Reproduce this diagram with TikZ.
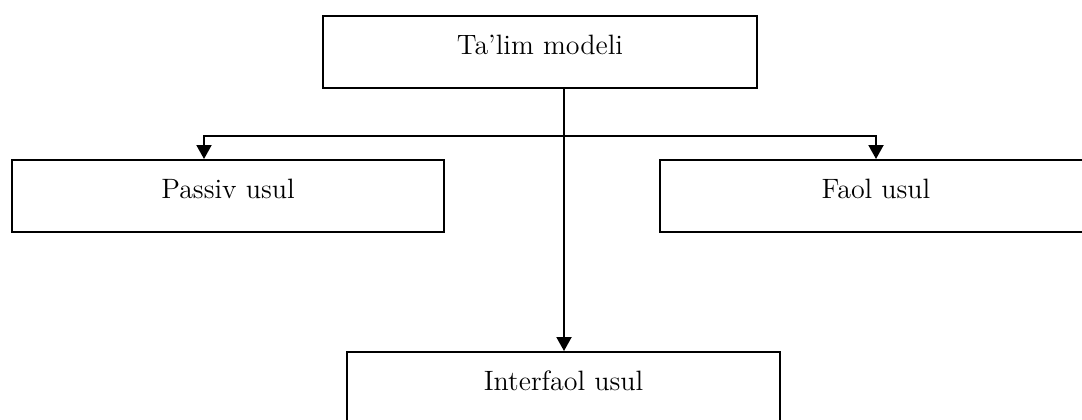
\documentclass[tikz,border=0pt]{standalone}
\usetikzlibrary{arrows.meta}
\tikzset{
  box/.style={draw,line width=1pt,minimum height=36pt,inner sep=0pt,text height=10pt,text depth=8pt,font=\fontsize{14}{16}\selectfont},
  link/.style={line width=1pt,-{Triangle[length=7pt,width=7.5pt]}}
}
\begin{document}
\begin{tikzpicture}[x=0.5pt,y=-0.5pt]
        \clip (0,0) rectangle (1082,419);
        \node[box,minimum width=217pt] (model) at (540,52) {Ta'lim modeli};
        \node[box,minimum width=216pt] (passiv) at (228,196) {Passiv usul};
        \node[box,minimum width=216pt] (faol) at (876,196) {Faol usul};
        \node[box,minimum width=216.5pt] (inter) at (563.5,388) {Interfaol usul};
        \coordinate (split) at (564,136);
        \draw[link] (model.south -| split) -- (inter.north -| split);
        \draw[link] (split) -| ([xshift=-12pt]passiv.north);
        \draw[link] (split) -| (faol.north);
      \end{tikzpicture}
\end{document}
